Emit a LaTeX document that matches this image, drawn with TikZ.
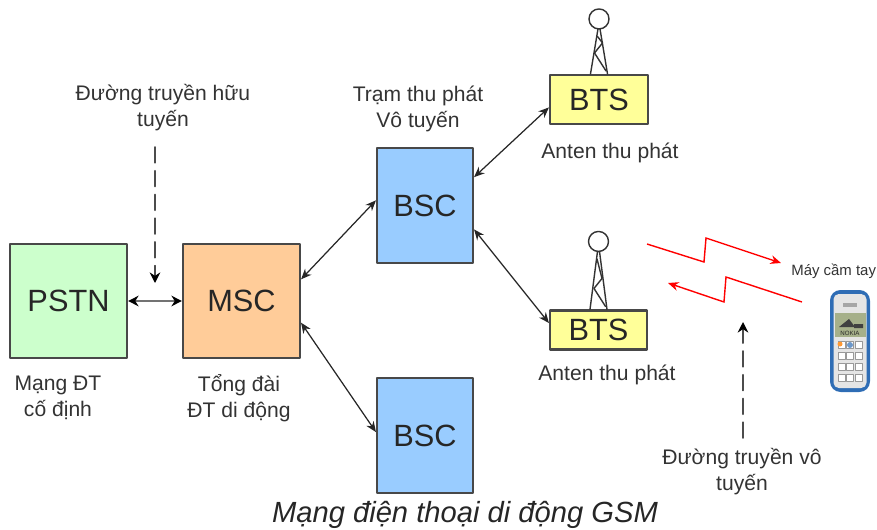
\documentclass[tikz,border=0pt]{standalone}
\usepackage{fontspec}
\setmainfont{Liberation Sans}
\usetikzlibrary{arrows.meta}
\definecolor{chu}{HTML}{333333}
\definecolor{vien}{HTML}{484848}
\definecolor{xanhla}{HTML}{CCFFCC}
\definecolor{cam}{HTML}{FFCC99}
\definecolor{xanh}{HTML}{99CCFF}
\definecolor{vang}{HTML}{FFFF99}
\definecolor{vo}{HTML}{2F6DB5}
\definecolor{manhinh}{HTML}{A6B08A}
\tikzset{
	hop/.style={draw=vien,line width=1.2pt,inner sep=0pt,text=black!85,font=\fontsize{17.5}{20}\selectfont},
	nhan/.style={text=chu,align=center,inner sep=0pt,font=\fontsize{12}{14.8}\selectfont},
	noi/.style={<->,line width=.7pt,draw=black!85},
	netdut/.style={-{Stealth[black,length=6pt,width=6pt]},line width=.9pt,draw=black!70,dash pattern=on 9pt off 4.5pt},
	song/.style={->,line width=.8pt,draw=red,line cap=butt,line join=miter},
}
\begin{document}
\begin{tikzpicture}[>={Stealth[length=6pt,width=5pt]},line join=round,line cap=round]
	\useasboundingbox (0,0) rectangle (17.54,10.58);
	% cac khoi
	\node[hop,fill=xanhla,minimum width=2.34cm,minimum height=2.28cm] (pstn) at (1.37,4.56) {PSTN};
	\node[hop,fill=cam,minimum width=2.34cm,minimum height=2.28cm] (msc) at (4.83,4.56) {MSC};
	\node[hop,fill=xanh,minimum width=1.92cm,minimum height=2.3cm] (bsc1) at (8.5,6.47) {BSC};
	\node[hop,fill=xanh,minimum width=1.92cm,minimum height=2.3cm] (bsc2) at (8.5,1.87) {BSC};
	\node[hop,fill=vang,minimum width=1.96cm,minimum height=.98cm] (bts1) at (11.98,8.59) {BTS};
	\node[hop,fill=vang,minimum width=1.94cm,minimum height=.78cm] (bts2) at (11.97,3.98) {BTS};
	% cot anten
	\foreach \ten/\cao in {bts1/1.1,bts2/1.36}{
		\begin{scope}[shift={(\ten.north)},line width=.8pt,draw=black!80]
			\draw (0,\cao) circle(.2);
			\draw (-.17,0)--(-.02,\cao-.2) (.17,0)--(.02,\cao-.2);
			\draw (.14,.06)--(-.09,.42)--(.07,.62)--(-.03,\cao-.35);
		\end{scope}
	}
	% nhan
	\node[nhan] (lbhuu) at (3.26,8.43) {Đường truyền hữu\\tuyến};
	\node[nhan] (lbtram) at (8.36,8.4) {Trạm thu phát\\Vô tuyến};
	\node[nhan] (lbant1) at (12.2,7.52) {Anten thu phát};
	\node[nhan] (lbant2) at (12.14,3.08) {Anten thu phát};
	\node[nhan] (lbpstn) at (1.16,2.62) {Mạng ĐT\\cố định};
	\node[nhan] (lbmsc) at (4.78,2.62) {Tổng đài\\ĐT di động};
	\node[nhan] (lbvo) at (14.84,1.14) {Đường truyền vô\\tuyến};
	\node[text=chu,inner sep=0pt,anchor=west,font=\fontsize{8.5}{11}\selectfont] (lbmay) at (15.82,5.16) {Máy cầm tay};
	\node[text=black!85,inner sep=0pt,font=\fontsize{16.6}{20}\selectfont\itshape] (tieude) at (9.3,.28) {Mạng điện thoại di động GSM};
	% duong noi
	\draw[{Stealth[black,length=6pt,width=6pt]}-{Stealth[black,length=6pt,width=6pt]},line width=1.6pt,draw=black!55] (pstn)--(msc);
	\draw[noi] (msc.20)--(bsc1.174);
	\draw[noi] (msc.-20)--(bsc2.176);
	\draw[noi] (bsc1.30)--(bts1.189);
	\draw[noi] (bsc1.-26)--(bts2.172);
	\path (3.1,7.64) coordinate (huu1) (3.1,4.92) coordinate (huu2);
	\path (14.86,1.82) coordinate (vo1) (14.86,4.14) coordinate (vo2);
	\draw[netdut] (huu1)--(huu2);
	\draw[netdut] (vo1)--(vo2);
	% song vo tuyen
	\draw[song] (12.94,5.7)--(14.08,5.34)--(14.12,5.82)--(15.62,5.32);
	\draw[song] (16.04,4.54)--(14.52,5.04)--(14.48,4.54)--(13.36,4.92);
	% dien thoai
	\fill[vo,rounded corners=6pt] (16.6,2.74) rectangle (17.4,4.78);
	\fill[black!10,rounded corners=3pt] (16.67,2.82) rectangle (17.33,4.7);
	\fill[black!35] (16.86,4.44) rectangle (17.14,4.52);
	\fill[manhinh] (16.7,3.84) rectangle (17.32,4.32);
	\fill[black!75] (16.78,4.04) -- (16.98,4.2) -- (17.1,4.04) -- cycle (17.08,4.02) rectangle (17.26,4.1);
	\node[text=black!85,inner sep=0pt,font=\fontsize{3.5}{4}\selectfont] (nokia) at (17,3.92) {NOKIA};
	\foreach \cot in {16.83,17,17.17}{
		\foreach \hang in {3.68,3.46,3.24,3.02}{
			\fill[white,draw=black!40,line width=.3pt] (\cot-.07,\hang-.07) rectangle (\cot+.07,\hang+.07);
		}
	}
	\fill[orange!80] (16.8,3.7) circle(.05);
	\fill[vo!70] (17,3.68) circle(.06);
\end{tikzpicture}
\end{document}
